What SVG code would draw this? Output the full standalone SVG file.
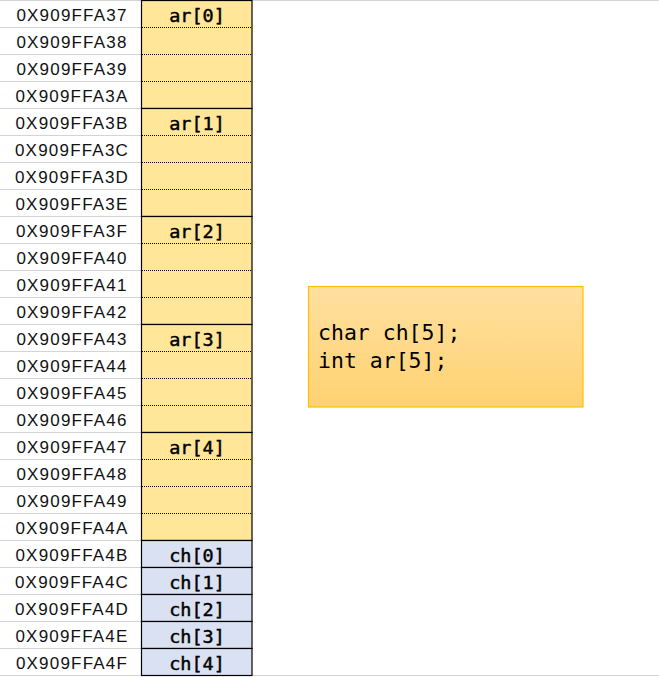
<svg xmlns="http://www.w3.org/2000/svg" width="659" height="677" viewBox="0 0 659 677">
<style>
.addr{font-family:"Liberation Sans",Arial,sans-serif;font-size:17px;letter-spacing:1.2px;fill:#111;text-anchor:middle}
.lbl{font-family:"DejaVu Sans Mono","Liberation Mono",monospace;font-size:18.5px;fill:#000;stroke:#000;stroke-width:0.45px;text-anchor:middle}
.code{font-family:"DejaVu Sans Mono","Liberation Mono",monospace;font-size:21.5px;fill:#000}
.grid{stroke:#D4D4D4;stroke-width:1}
.ar{fill:#FFE699;stroke:#000;stroke-width:1.2}
.ch{fill:#D9E1F2;stroke:#000;stroke-width:1.2}
.dot{stroke:#000;stroke-width:1;stroke-dasharray:1 1}
</style>
<defs>
<linearGradient id="gbox" x1="0" y1="0" x2="0" y2="1">
<stop offset="0" stop-color="#FFE09F"/>
<stop offset="1" stop-color="#FFD272"/>
</linearGradient>
</defs>
<rect x="0" y="0" width="659" height="677" fill="#fff"/>
<g id="gridlines">
<line class="grid" x1="0" y1="0.5" x2="659" y2="0.5"/>
<line class="grid" x1="0" y1="675.5" x2="659" y2="675.5"/>
<line class="grid" x1="0" y1="27.5" x2="141" y2="27.5"/>
<line class="grid" x1="0" y1="54.5" x2="141" y2="54.5"/>
<line class="grid" x1="0" y1="81.5" x2="141" y2="81.5"/>
<line class="grid" x1="0" y1="108.5" x2="141" y2="108.5"/>
<line class="grid" x1="0" y1="135.5" x2="141" y2="135.5"/>
<line class="grid" x1="0" y1="162.5" x2="141" y2="162.5"/>
<line class="grid" x1="0" y1="189.5" x2="141" y2="189.5"/>
<line class="grid" x1="0" y1="216.5" x2="141" y2="216.5"/>
<line class="grid" x1="0" y1="243.5" x2="141" y2="243.5"/>
<line class="grid" x1="0" y1="270.5" x2="141" y2="270.5"/>
<line class="grid" x1="0" y1="297.5" x2="141" y2="297.5"/>
<line class="grid" x1="0" y1="324.5" x2="141" y2="324.5"/>
<line class="grid" x1="0" y1="351.5" x2="141" y2="351.5"/>
<line class="grid" x1="0" y1="378.5" x2="141" y2="378.5"/>
<line class="grid" x1="0" y1="405.5" x2="141" y2="405.5"/>
<line class="grid" x1="0" y1="432.5" x2="141" y2="432.5"/>
<line class="grid" x1="0" y1="459.5" x2="141" y2="459.5"/>
<line class="grid" x1="0" y1="486.5" x2="141" y2="486.5"/>
<line class="grid" x1="0" y1="513.5" x2="141" y2="513.5"/>
<line class="grid" x1="0" y1="540.5" x2="141" y2="540.5"/>
<line class="grid" x1="0" y1="567.5" x2="141" y2="567.5"/>
<line class="grid" x1="0" y1="594.5" x2="141" y2="594.5"/>
<line class="grid" x1="0" y1="621.5" x2="141" y2="621.5"/>
<line class="grid" x1="0" y1="648.5" x2="141" y2="648.5"/>
</g>
<g id="addresses">
<text class="addr" x="72" y="21">0X909FFA37</text>
<text class="addr" x="72" y="48">0X909FFA38</text>
<text class="addr" x="72" y="75">0X909FFA39</text>
<text class="addr" x="72" y="102">0X909FFA3A</text>
<text class="addr" x="72" y="129">0X909FFA3B</text>
<text class="addr" x="72" y="156">0X909FFA3C</text>
<text class="addr" x="72" y="183">0X909FFA3D</text>
<text class="addr" x="72" y="210">0X909FFA3E</text>
<text class="addr" x="72" y="237">0X909FFA3F</text>
<text class="addr" x="72" y="264">0X909FFA40</text>
<text class="addr" x="72" y="291">0X909FFA41</text>
<text class="addr" x="72" y="318">0X909FFA42</text>
<text class="addr" x="72" y="345">0X909FFA43</text>
<text class="addr" x="72" y="372">0X909FFA44</text>
<text class="addr" x="72" y="399">0X909FFA45</text>
<text class="addr" x="72" y="426">0X909FFA46</text>
<text class="addr" x="72" y="453">0X909FFA47</text>
<text class="addr" x="72" y="480">0X909FFA48</text>
<text class="addr" x="72" y="507">0X909FFA49</text>
<text class="addr" x="72" y="534">0X909FFA4A</text>
<text class="addr" x="72" y="561">0X909FFA4B</text>
<text class="addr" x="72" y="588">0X909FFA4C</text>
<text class="addr" x="72" y="615">0X909FFA4D</text>
<text class="addr" x="72" y="642">0X909FFA4E</text>
<text class="addr" x="72" y="669">0X909FFA4F</text>
</g>
<g id="ar0">
<rect class="ar" x="141.5" y="0.5" width="110.5" height="108"/>
<line class="dot" x1="142" y1="27.5" x2="251" y2="27.5"/>
<line class="dot" x1="142" y1="54.5" x2="251" y2="54.5"/>
<line class="dot" x1="142" y1="81.5" x2="251" y2="81.5"/>
<text class="lbl" x="197" y="22">ar[0]</text>
</g>
<g id="ar1">
<rect class="ar" x="141.5" y="108.5" width="110.5" height="108"/>
<line class="dot" x1="142" y1="135.5" x2="251" y2="135.5"/>
<line class="dot" x1="142" y1="162.5" x2="251" y2="162.5"/>
<line class="dot" x1="142" y1="189.5" x2="251" y2="189.5"/>
<text class="lbl" x="197" y="130">ar[1]</text>
</g>
<g id="ar2">
<rect class="ar" x="141.5" y="216.5" width="110.5" height="108"/>
<line class="dot" x1="142" y1="243.5" x2="251" y2="243.5"/>
<line class="dot" x1="142" y1="270.5" x2="251" y2="270.5"/>
<line class="dot" x1="142" y1="297.5" x2="251" y2="297.5"/>
<text class="lbl" x="197" y="238">ar[2]</text>
</g>
<g id="ar3">
<rect class="ar" x="141.5" y="324.5" width="110.5" height="108"/>
<line class="dot" x1="142" y1="351.5" x2="251" y2="351.5"/>
<line class="dot" x1="142" y1="378.5" x2="251" y2="378.5"/>
<line class="dot" x1="142" y1="405.5" x2="251" y2="405.5"/>
<text class="lbl" x="197" y="346">ar[3]</text>
</g>
<g id="ar4">
<rect class="ar" x="141.5" y="432.5" width="110.5" height="108"/>
<line class="dot" x1="142" y1="459.5" x2="251" y2="459.5"/>
<line class="dot" x1="142" y1="486.5" x2="251" y2="486.5"/>
<line class="dot" x1="142" y1="513.5" x2="251" y2="513.5"/>
<text class="lbl" x="197" y="454">ar[4]</text>
</g>
<g id="ch0"><rect class="ch" x="141.5" y="540.5" width="110.5" height="27"/><text class="lbl" x="197" y="562">ch[0]</text></g>
<g id="ch1"><rect class="ch" x="141.5" y="567.5" width="110.5" height="27"/><text class="lbl" x="197" y="589">ch[1]</text></g>
<g id="ch2"><rect class="ch" x="141.5" y="594.5" width="110.5" height="27"/><text class="lbl" x="197" y="616">ch[2]</text></g>
<g id="ch3"><rect class="ch" x="141.5" y="621.5" width="110.5" height="27"/><text class="lbl" x="197" y="643">ch[3]</text></g>
<g id="ch4"><rect class="ch" x="141.5" y="648.5" width="110.5" height="27"/><text class="lbl" x="197" y="670">ch[4]</text></g>
<g id="codebox">
<rect x="308.5" y="286.5" width="274.5" height="120.5" fill="url(#gbox)" stroke="#FFC000" stroke-width="1.2"/>
<text class="code" x="318" y="340">char ch[5];</text>
<text class="code" x="318" y="368">int ar[5];</text>
</g>
<g id="connectors"></g>
</svg>
